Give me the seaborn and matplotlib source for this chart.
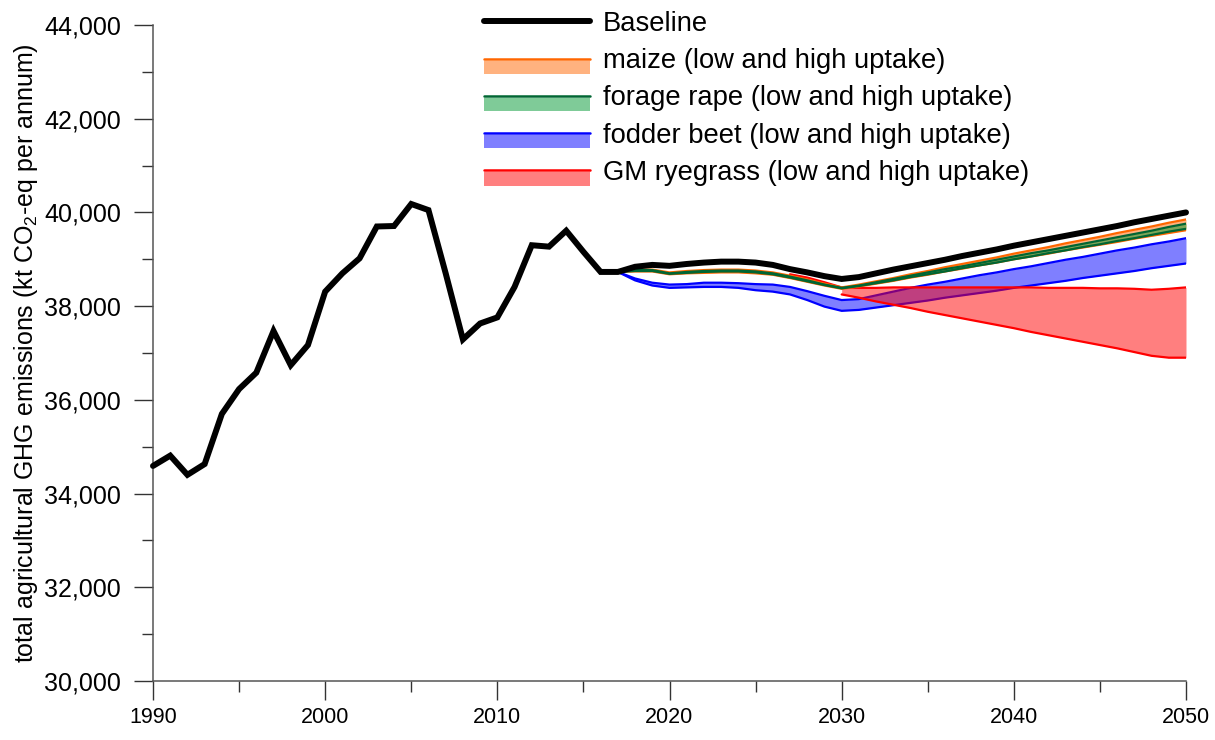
import numpy as np
import pandas as pd
import seaborn as sns
import matplotlib.pyplot as plt
from matplotlib.patches import Patch, Rectangle
from matplotlib.lines import Line2D
from matplotlib.legend_handler import HandlerBase
from matplotlib.ticker import MultipleLocator, FuncFormatter

# Datos (kt CO2-eq por año)
years = list(range(1990, 2051))
baseline = [34590, 34810, 34400, 34630, 35700, 36230, 36580, 37470, 36740, 37170,
            38310, 38700, 39020, 39700, 39710, 40180, 40050, 38700, 37290, 37630,
            37760, 38410, 39300, 39270, 39610, 39160, 38730, 38730, 38840, 38880,
            38860, 38900, 38930, 38950, 38950, 38930, 38880, 38790, 38720, 38640,
            38580, 38620, 38700, 38780, 38850, 38920, 38990, 39070, 39140, 39210,
            39290, 39360, 39430, 39500, 39570, 39640, 39710, 39790, 39860, 39930,
            40000]

proj_years = list(range(2017, 2051))
maize_high = [38730, 38780, 38780, 38720, 38750, 38770, 38780, 38780, 38760, 38720,
              38650, 38570, 38480, 38400, 38460, 38530, 38600, 38680, 38750, 38830,
              38900, 38970, 39040, 39120, 39190, 39260, 39340, 39410, 39480, 39560,
              39630, 39700, 39780, 39850]
maize_low = [38730, 38740, 38740, 38680, 38700, 38710, 38720, 38720, 38700, 38670,
             38600, 38520, 38440, 38370, 38420, 38480, 38540, 38610, 38670, 38740,
             38800, 38870, 38930, 39000, 39060, 39120, 39190, 39250, 39310, 39370,
             39440, 39500, 39560, 39620]
rape_high = [38730, 38770, 38770, 38700, 38730, 38750, 38760, 38760, 38740, 38700,
             38630, 38550, 38460, 38390, 38440, 38510, 38580, 38650, 38720, 38790,
             38850, 38920, 38990, 39060, 39130, 39190, 39260, 39330, 39400, 39470,
             39540, 39610, 39690, 39760]
rape_low = [38730, 38750, 38750, 38690, 38710, 38730, 38740, 38740, 38720, 38680,
            38610, 38530, 38450, 38380, 38430, 38490, 38550, 38620, 38680, 38740,
            38810, 38870, 38930, 39000, 39060, 39130, 39190, 39260, 39320, 39390,
            39450, 39520, 39590, 39650]
beet_high = [38730, 38590, 38500, 38460, 38470, 38500, 38500, 38490, 38470, 38460,
             38410, 38320, 38220, 38130, 38150, 38230, 38310, 38390, 38460, 38520,
             38590, 38660, 38720, 38790, 38850, 38920, 38990, 39050, 39120, 39190,
             39250, 39320, 39380, 39450]
beet_low = [38730, 38550, 38440, 38390, 38400, 38410, 38410, 38390, 38340, 38310,
            38250, 38130, 37990, 37900, 37920, 37970, 38020, 38070, 38120, 38180,
            38230, 38280, 38330, 38390, 38440, 38490, 38540, 38600, 38650, 38700,
            38750, 38810, 38860, 38910]

gm_years = [2027, 2028, 2029, 2030, 2030, 2031, 2032, 2033, 2034, 2035, 2036, 2037,
            2038, 2039, 2040, 2041, 2042, 2043, 2044, 2045, 2046, 2047, 2048, 2049, 2050]
gm_high = [38680, 38610, 38510, 38400, 38400, 38390, 38390, 38400, 38400, 38400,
           38400, 38400, 38400, 38400, 38400, 38400, 38390, 38390, 38390, 38380,
           38380, 38370, 38350, 38370, 38400]
gm_low = [38620, 38540, 38450, 38380, 38250, 38180, 38100, 38030, 37960, 37880,
          37810, 37740, 37670, 37600, 37530, 37450, 37380, 37310, 37240, 37170,
          37100, 37020, 36940, 36900, 36900]

labels = ['Baseline', 'maize (low and high uptake)', 'forage rape (low and high uptake)',
          'fodder beet (low and high uptake)', 'GM ryegrass (low and high uptake)']

sns.set_style("ticks")
plt.rcParams['font.family'] = ['Liberation Sans', 'DejaVu Sans']
plt.rcParams['mathtext.fontset'] = 'custom'
plt.rcParams['mathtext.rm'] = 'Liberation Sans'
plt.rcParams['mathtext.it'] = 'Liberation Sans:italic'
plt.rcParams['text.color'] = 'black'
plt.rcParams['axes.labelcolor'] = 'black'
plt.rcParams['xtick.labelcolor'] = 'black'
plt.rcParams['ytick.labelcolor'] = 'black'

fig = plt.figure(figsize=(12.15, 7.40), dpi=100)
ax = fig.add_axes([153 / 1215, 59 / 740, (1186 - 153) / 1215, (681 - 25) / 740])

# bandas (azul, rojo, maiz, nabo) y lineas
bandas = [
    (proj_years, beet_low, beet_high, (0, 0, 1, 0.5), '#0000FF'),
    (gm_years, gm_low, gm_high, (1, 0, 0, 0.5), '#FF0000'),
    (proj_years, maize_low, maize_high, (1, 0.4, 0, 0.5), '#FF6600'),
    (proj_years, rape_low, rape_high, (0, 0.6, 0.2, 0.5), '#006633'),
]
for i, (xs, lo, hi, fc, lc) in enumerate(bandas):
    z = 2 + i
    ax.fill_between(xs, lo, hi, facecolor=fc, linewidth=0, zorder=z)
    sns.lineplot(x=xs, y=hi, ax=ax, color=lc, lw=1.6, sort=False, estimator=None, zorder=z)
    if lc == '#FF0000':
        # la linea baja del ryegrass arranca despues del salto de 2030
        sns.lineplot(x=xs[4:], y=lo[4:], ax=ax, color=lc, lw=1.6, sort=False,
                     estimator=None, zorder=z)
    else:
        sns.lineplot(x=xs, y=lo, ax=ax, color=lc, lw=1.6, sort=False, estimator=None, zorder=z)

sns.lineplot(x=years, y=baseline, ax=ax, color='black', lw=4.3, zorder=10,
             solid_joinstyle='miter', clip_on=False)

ax.set_xlim(1990, 2050)
ax.set_ylim(30000, 44000)
ax.xaxis.set_major_locator(MultipleLocator(10))
ax.xaxis.set_minor_locator(MultipleLocator(5))
ax.yaxis.set_major_locator(MultipleLocator(2000))
ax.yaxis.set_minor_locator(MultipleLocator(1000))
ax.yaxis.set_major_formatter(FuncFormatter(lambda v, p: f"{int(v):,}"))

sns.despine(ax=ax)
for s in ['left', 'bottom']:
    ax.spines[s].set_color('#555555')
    ax.spines[s].set_linewidth(1.1)
ax.tick_params(axis='both', which='major', length=14, width=1, color='#333333')
ax.tick_params(axis='both', which='minor', length=8, width=1, color='#333333')
ax.tick_params(axis='x', labelsize=15.5, pad=5)
ax.tick_params(axis='y', labelsize=18, pad=9)

ax.set_xlabel('')
ax.set_ylabel('total agricultural GHG emissions (kt CO$_{\\mathrm{2}}$-eq per annum)',
              fontsize=18, labelpad=3)


class BandHandler(HandlerBase):
    def create_artists(self, legend, orig_handle, xdescent, ydescent, width, height,
                       fontsize, trans):
        mid = height / 2 - ydescent
        rect = Rectangle((-xdescent, mid - 11), width, 9.5, facecolor=orig_handle.get_facecolor(),
                         edgecolor='none', transform=trans)
        line = Line2D([-xdescent, -xdescent + width], [mid, mid],
                      color=orig_handle.get_edgecolor(), lw=1.8, transform=trans)
        return [rect, line]


handles = [Line2D([0], [0], color='black', lw=4.3)]
for xs, lo, hi, fc, lc in [bandas[2], bandas[3], bandas[0], bandas[1]]:
    handles.append(Patch(facecolor=fc, edgecolor=lc))

fig.legend(handles, labels, loc='upper left', bbox_to_anchor=(484 / 1215, 1 - 11 / 740),
           frameon=False, fontsize=19.7, handlelength=3.87, handletextpad=0.47,
           labelspacing=0.41, borderpad=0, borderaxespad=0,
           handler_map={Patch: BandHandler()})

fig.savefig('out.png', dpi=100)
